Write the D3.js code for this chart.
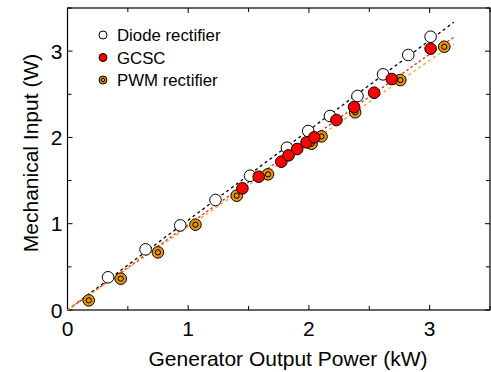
<!DOCTYPE html>
<html>
<head>
<meta charset="utf-8">
<script src="https://cdn.jsdelivr.net/npm/d3@7"></script>
<style>
  body { margin: 0; background: #fff; }
  text { font-family: "Liberation Sans", Arial, sans-serif; }
</style>
</head>
<body>
<svg id="chart" width="491" height="372"></svg>
<script>
// generator output power (kW) vs mechanical input
const diodeX = [0.336, 0.647, 0.934, 1.226, 1.512, 1.818, 1.994, 2.174, 2.402, 2.614, 2.823, 3.008];
const diodeY = [0.379, 0.703, 0.981, 1.275, 1.556, 1.881, 2.074, 2.248, 2.480, 2.731, 2.955, 3.167];
const gcscX = [1.449, 1.584, 1.771, 1.831, 1.903, 1.980, 2.044, 2.228, 2.374, 2.540, 2.686, 3.008];
const gcscY = [1.410, 1.545, 1.719, 1.792, 1.866, 1.943, 2.001, 2.202, 2.352, 2.518, 2.677, 3.028];
const pwmX = [0.176, 0.441, 0.749, 1.060, 1.402, 1.661, 2.022, 2.104, 2.383, 2.757, 3.121];
const pwmY = [0.112, 0.363, 0.668, 0.989, 1.325, 1.572, 1.927, 2.012, 2.291, 2.665, 3.051];
// fitted lines through origin: slopes
const fitSlopes = [1.042, 0.988, 0.964];
const fitEndX = 3.2;
const legendLabels = ["Diode rectifier", "GCSC", "PWM rectifier"];
const xTicks = [0, 1, 2, 3];
const yTicks = [0, 1, 2, 3];

const orange = "#e8940c";
const svg = d3.select('#chart');
const mLeft = 67.5, mRight = 490, mTop = 8, mBottom = 310;

const x = d3.scaleLinear().domain([0, 3.5]).range([mLeft, mRight]);
const y = d3.scaleLinear().domain([0, 3.5]).range([mBottom, mTop]);

const minor = d3.range(0, 3.51, 0.5);

// ticks drawn inside the frame
const ax = svg.append('g').attr('stroke', '#000').attr('stroke-width', 1);
minor.forEach(v => {
  const len = Number.isInteger(v) ? 5 : 4;
  ax.append('line').attr('x1', x(v)).attr('x2', x(v)).attr('y1', mBottom).attr('y2', mBottom - len);
  ax.append('line').attr('x1', x(v)).attr('x2', x(v)).attr('y1', mTop).attr('y2', mTop + len);
  ax.append('line').attr('y1', y(v)).attr('y2', y(v)).attr('x1', mLeft).attr('x2', mLeft + len);
  ax.append('line').attr('y1', y(v)).attr('y2', y(v)).attr('x1', mRight).attr('x2', mRight - len);
});

svg.append('rect')
  .attr('x', mLeft).attr('y', mTop)
  .attr('width', mRight - mLeft).attr('height', mBottom - mTop)
  .attr('fill', 'none').attr('stroke', '#000').attr('stroke-width', 1.2);

svg.selectAll('.xt').data(xTicks).enter().append('text')
  .attr('x', d => x(d)).attr('y', mBottom + 26)
  .attr('text-anchor', 'middle').attr('font-size', 21)
  .text(d => d);

svg.selectAll('.yt').data(yTicks).enter().append('text')
  .attr('x', mLeft - 5).attr('y', d => y(d) + 7.5)
  .attr('text-anchor', 'end').attr('font-size', 21)
  .text(d => d);

svg.append('text')
  .attr('x', 288).attr('y', 366)
  .attr('text-anchor', 'middle').attr('font-size', 21)
  .text('Generator Output Power (kW)');

svg.append('text')
  .attr('transform', `translate(38, 153) rotate(-90)`)
  .attr('text-anchor', 'middle').attr('font-size', 21)
  .text('Mechanical Input (W)');

// fit lines
const fitColors = ['#000', '#f02020', '#f5a623'];
const fitDash = ['3,3', '2.5,2.5', '3,3'];
fitSlopes.forEach((s, i) => {
  svg.append('line')
    .attr('x1', x(0)).attr('y1', y(0))
    .attr('x2', x(fitEndX)).attr('y2', y(s * fitEndX))
    .attr('stroke', fitColors[i]).attr('stroke-width', 1.3)
    .attr('stroke-dasharray', fitDash[i]);
});

const r = 5.8;
function diodeMark(g, cx, cy, rr) {
  g.append('circle').attr('cx', cx).attr('cy', cy).attr('r', rr)
    .attr('fill', '#fff').attr('stroke', '#000').attr('stroke-width', 1);
}
function gcscMark(g, cx, cy, rr) {
  g.append('circle').attr('cx', cx).attr('cy', cy).attr('r', rr)
    .attr('fill', '#ff0000').attr('stroke', '#000').attr('stroke-width', 1);
}
function pwmMark(g, cx, cy, rr) {
  g.append('circle').attr('cx', cx).attr('cy', cy).attr('r', rr)
    .attr('fill', orange).attr('stroke', '#000').attr('stroke-width', 1);
  g.append('circle').attr('cx', cx).attr('cy', cy).attr('r', rr * 0.45)
    .attr('fill', orange).attr('stroke', '#000').attr('stroke-width', 1);
}

const pts = svg.append('g');
diodeX.forEach((v, i) => diodeMark(pts, x(v), y(diodeY[i]), r));
pwmX.forEach((v, i) => pwmMark(pts, x(v), y(pwmY[i]), r));
gcscX.forEach((v, i) => gcscMark(pts, x(v), y(gcscY[i]), r));

// legend
const lg = svg.append('g');
const marks = [diodeMark, gcscMark, pwmMark];
legendLabels.forEach((lab, i) => {
  const ly = 35 + i * 22.5;
  marks[i](lg, 103, ly, 4);
  lg.append('text').attr('x', 117).attr('y', ly + 6)
    .attr('font-size', 16.8).text(lab);
});
</script>
</body>
</html>
